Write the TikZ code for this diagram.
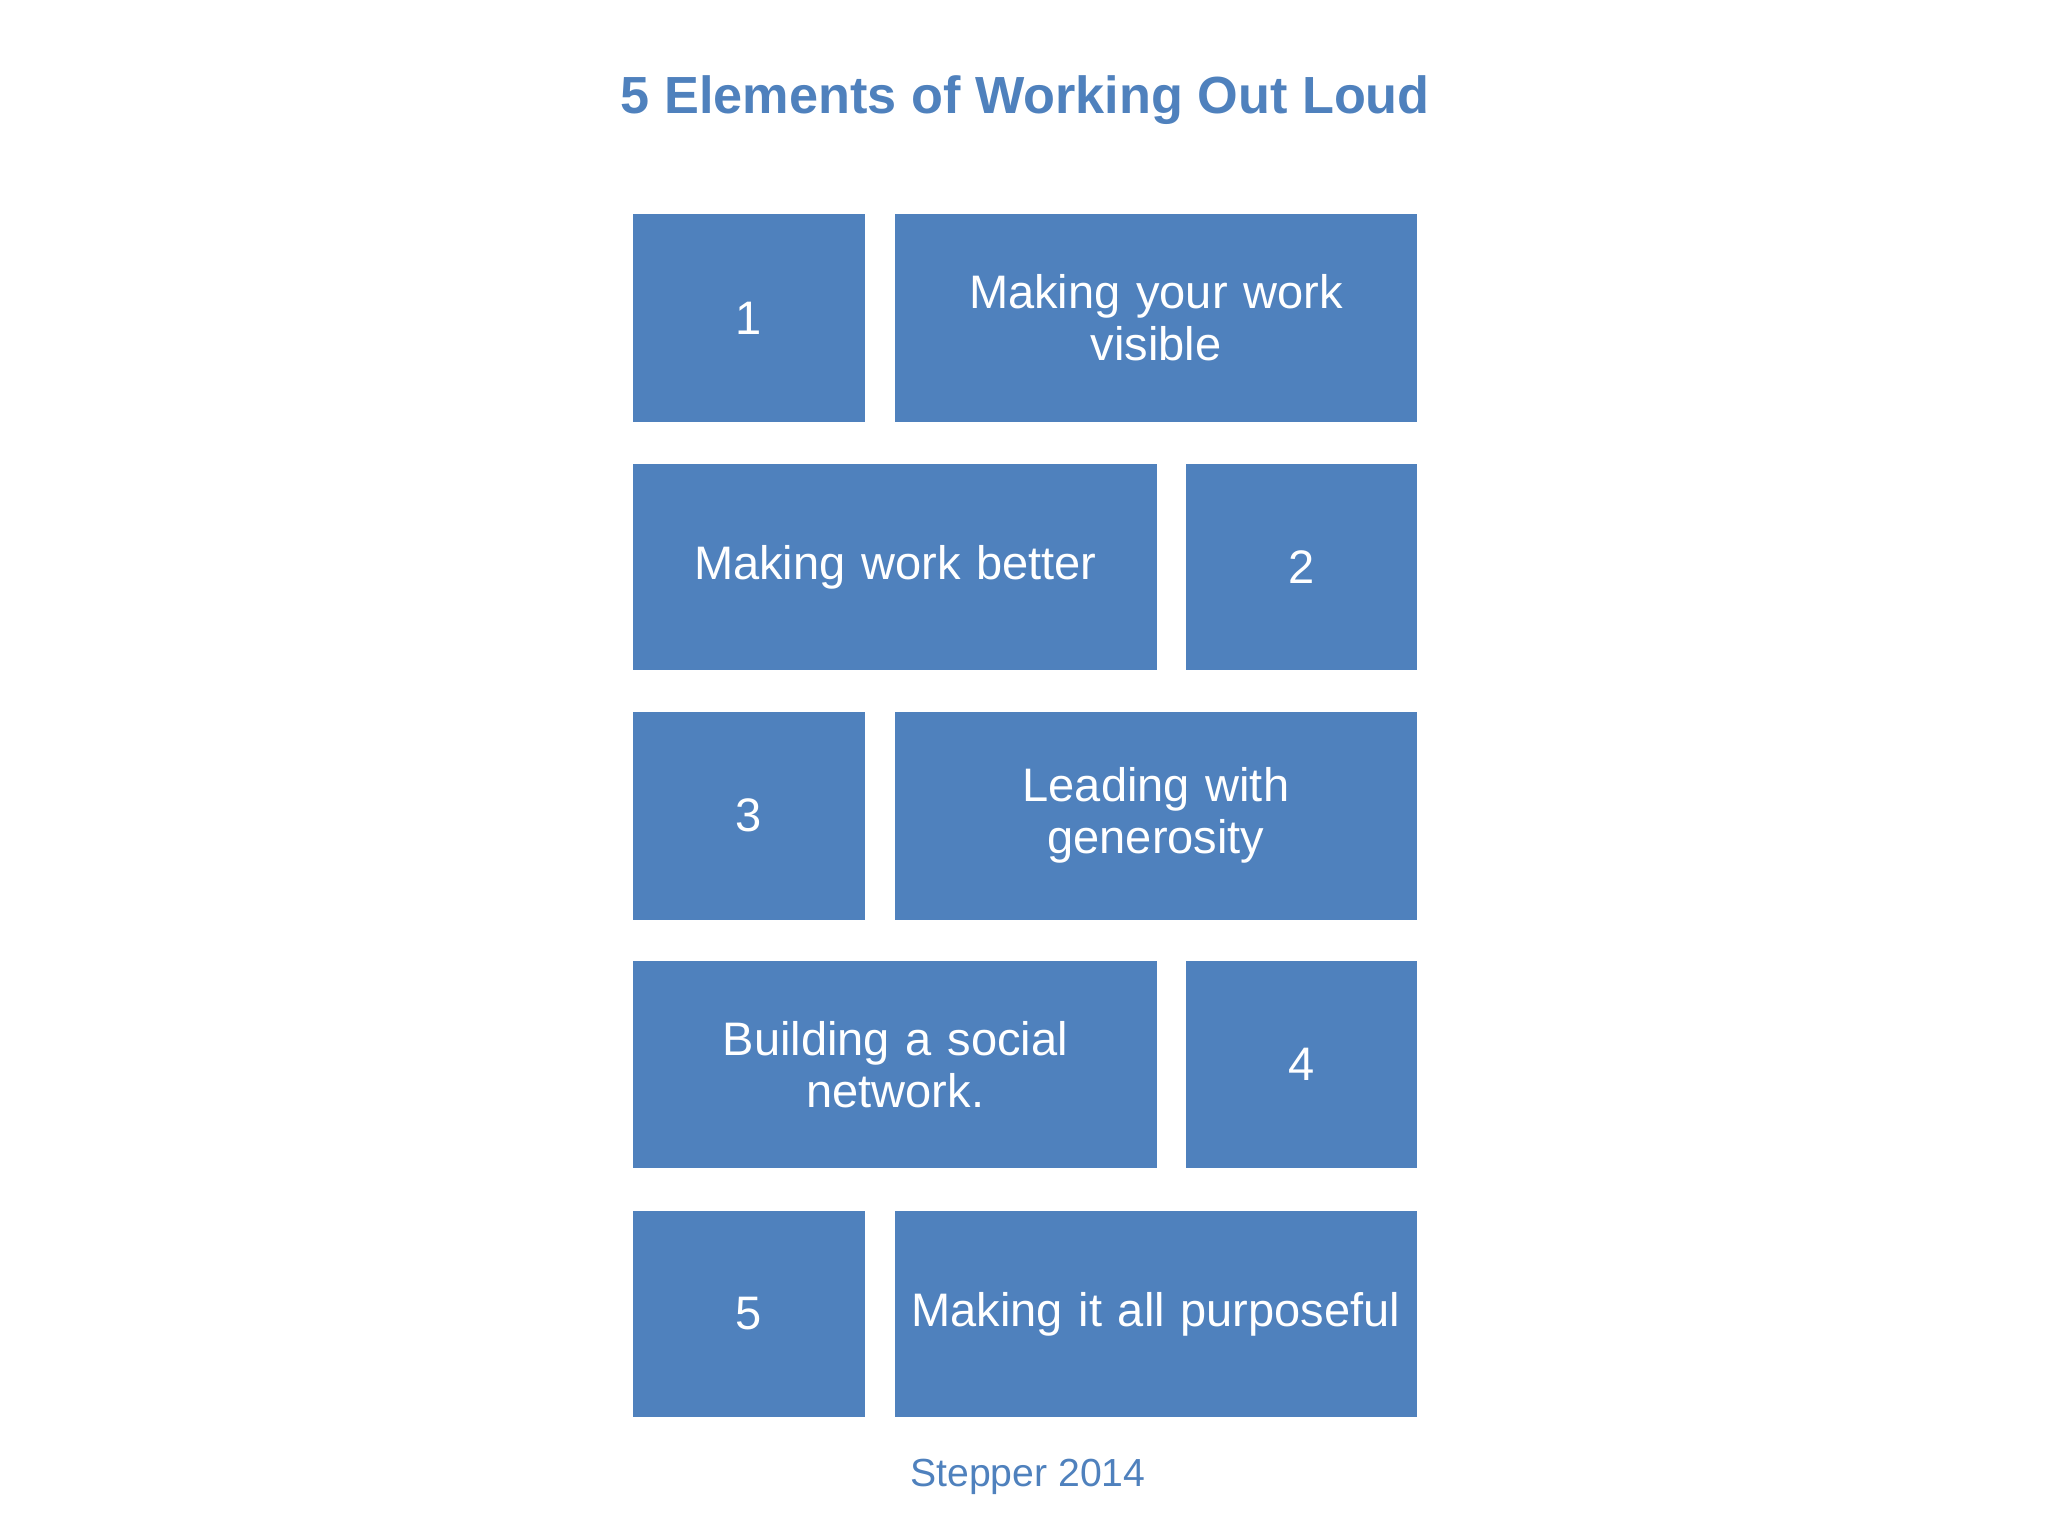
\documentclass[tikz,border=0pt]{standalone}
\usepackage{fontspec}
\setmainfont{Liberation Sans}
\definecolor{bl}{HTML}{4F81BD}
\begin{document}
\begin{tikzpicture}[x=0.5pt,y=-0.5pt,
  blk/.style={fill=bl,draw=none,text=white,font=\fontsize{18}{20}\selectfont,align=center,inner sep=0pt}]
\useasboundingbox (0,0) rectangle (1568,1176);
\newcommand\blk[6]{\fill[bl] (#1,#3) rectangle (#2,#4); \node[blk,text width=(#2-#1)*0.5pt-6pt] (#5) at ({(#1+#2)/2},{(#3+#4)/2}) {#6};}
\node[text=bl,font=\bfseries\fontsize{20}{24}\selectfont] (title) at (785,77) {5 Elements of Working Out Loud};
\blk{485}{662}{164}{323}{n1}{1}
\blk{685}{1085}{164}{323}{t1}{Making your work\\visible}
\blk{485}{886}{355}{513}{t2}{Making work better}
\blk{908}{1085}{355}{513}{n2}{2}
\blk{485}{662}{545}{704}{n3}{3}
\blk{685}{1085}{545}{704}{t3}{Leading with\\generosity}
\blk{485}{886}{736}{894}{t4}{Building a social\\network.}
\blk{908}{1085}{736}{894}{n4}{4}
\blk{485}{662}{927}{1085}{n5}{5}
\blk{685}{1085}{927}{1085}{t5}{Making it all purposeful}
\node[text=bl,font=\fontsize{15}{18}\selectfont] (src) at (787,1131) {Stepper 2014};
\end{tikzpicture}
\end{document}
